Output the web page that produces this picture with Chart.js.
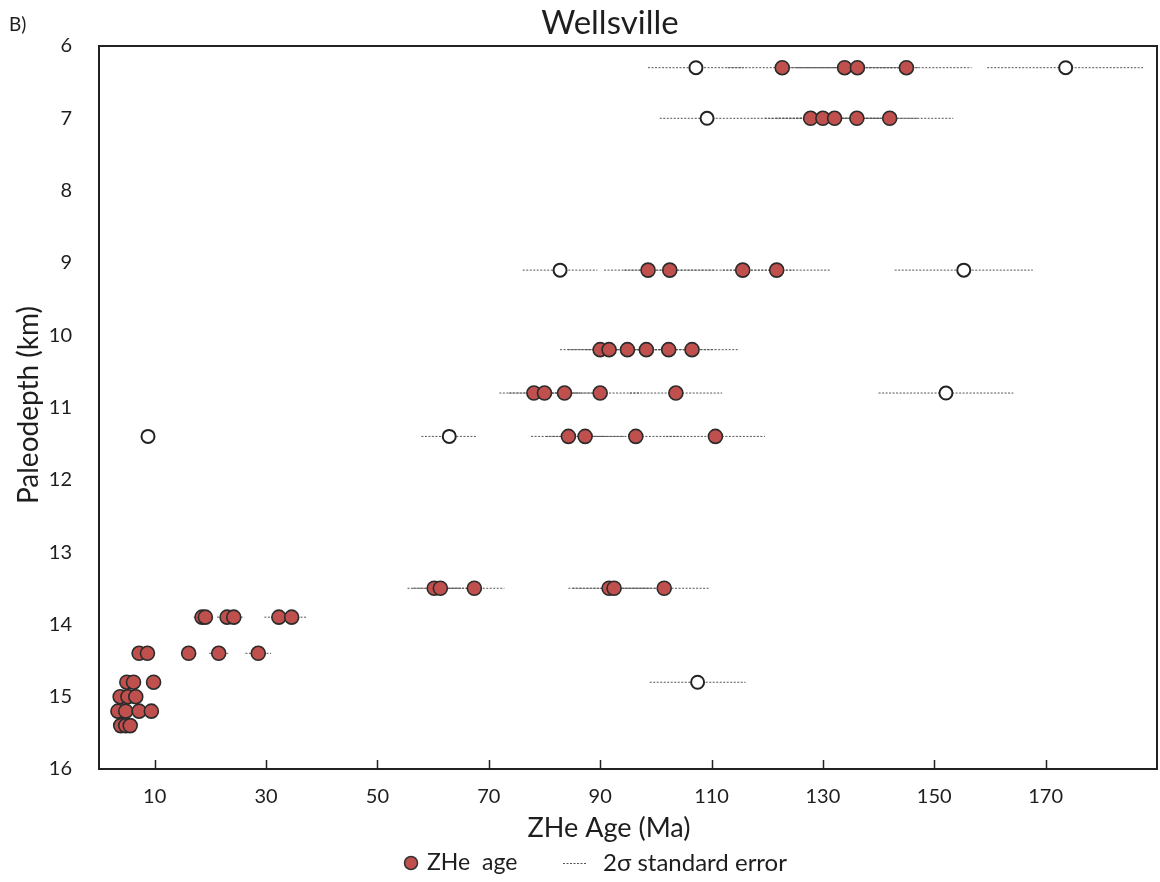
<!DOCTYPE html>
<html>
<head>
<meta charset="utf-8">
<script src="https://cdn.jsdelivr.net/npm/chart.js@4.4.0/dist/chart.umd.min.js"></script>
<style>
html,body{margin:0;padding:0;background:#fff;}
#wrap{width:1160px;height:882px;position:relative;}
</style>
</head>
<body>
<div id="wrap"><canvas id="c" width="1160" height="882"></canvas></div>
<script>
// ---- data ----
const xTickValues = [10, 30, 50, 70, 90, 110, 130, 150, 170];
const yTickValues = [6, 7, 8, 9, 10, 11, 12, 13, 14, 15, 16];

const filledDepth = [
  6.3, 6.3, 6.3, 6.3,
  7.0, 7.0, 7.0, 7.0, 7.0,
  9.1, 9.1, 9.1, 9.1,
  10.2, 10.2, 10.2, 10.2, 10.2, 10.2,
  10.8, 10.8, 10.8, 10.8, 10.8,
  11.4, 11.4, 11.4, 11.4,
  13.5, 13.5, 13.5, 13.5, 13.5, 13.5,
  13.9, 13.9, 13.9, 13.9, 13.9, 13.9,
  14.4, 14.4, 14.4, 14.4, 14.4,
  14.8, 14.8, 14.8,
  15.0, 15.0, 15.0,
  15.2, 15.2, 15.2, 15.2,
  15.4, 15.4, 15.4
];
const filledAge = [
  122.7, 133.9, 136.2, 145.0,
  127.8, 130.0, 132.1, 136.1, 142.0,
  98.6, 102.5, 115.6, 121.7,
  90.0, 91.6, 94.9, 98.3, 102.3, 106.5,
  78.1, 80.0, 83.6, 90.0, 103.6,
  84.3, 87.3, 96.4, 110.7,
  60.2, 61.3, 67.4, 91.6, 92.5, 101.5,
  18.5, 19.1, 23.0, 24.2, 32.3, 34.6,
  7.2, 8.7, 16.1, 21.5, 28.6,
  5.0, 6.2, 9.8,
  3.8, 5.2, 6.6,
  3.4, 4.8, 7.2, 9.4,
  3.9, 4.8, 5.6
];
const filledErr = [
  9.8, 10.7, 10.9, 11.7,
  10.2, 10.4, 10.6, 10.9, 11.4,
  7.9, 8.2, 9.2, 9.7,
  7.2, 7.3, 7.6, 7.9, 8.2, 8.5,
  6.2, 6.4, 6.7, 7.2, 8.3,
  6.7, 7.0, 7.7, 8.9,
  4.8, 4.9, 5.4, 7.3, 7.4, 8.1,
  1.5, 1.5, 1.8, 1.9, 2.6, 2.8,
  0.6, 0.7, 1.3, 1.7, 2.3,
  0.4, 0.5, 0.8,
  0.3, 0.4, 0.5,
  0.3, 0.4, 0.6, 0.8,
  0.3, 0.4, 0.4
];

const openDepth = [6.3, 6.3, 7.0, 9.1, 9.1, 10.8, 11.4, 11.4, 14.8];
const openAge   = [107.2, 173.6, 109.2, 82.8, 155.3, 152.1, 8.8, 62.9, 107.5];
const openErr   = [8.6, 14.1, 8.5, 6.7, 12.4, 12.1, 0.7, 5.0, 8.6];

// ---- build datasets from arrays ----
const filledPts = filledAge.map((a, i) => ({x: a, y: filledDepth[i]}));
const openPts = openAge.map((a, i) => ({x: a, y: openDepth[i]}));
const errPts = [];
function addBars(ages, depths, errs) {
  ages.forEach((a, i) => {
    errPts.push({x: a - errs[i], y: depths[i]});
    errPts.push({x: a + errs[i], y: depths[i]});
    errPts.push({x: a, y: null});
  });
}
addBars(filledAge, filledDepth, filledErr);
addBars(openAge, openDepth, openErr);

const FONT = 'Lato, "Open Sans", sans-serif';
const TXT = '#1e1e1e';
const RED = '#c0504d';

const decor = {
  id: 'decor',
  afterDraw(chart) {
    const {ctx, chartArea: ca, scales} = chart;
    ctx.save();
    // frame
    ctx.strokeStyle = '#222';
    ctx.lineWidth = 2;
    ctx.setLineDash([]);
    ctx.strokeRect(ca.left, ca.top, ca.right - ca.left, ca.bottom - ca.top);
    // inward x ticks
    ctx.lineWidth = 1.5;
    xTickValues.forEach(v => {
      const px = Math.round(scales.x.getPixelForValue(v)) + 0.5;
      ctx.beginPath();
      ctx.moveTo(px, ca.bottom);
      ctx.lineTo(px, ca.bottom - 9);
      ctx.stroke();
    });
    // texts
    ctx.fillStyle = TXT;
    ctx.textBaseline = 'middle';
    ctx.textAlign = 'center';
    ctx.font = '33px ' + FONT;
    ctx.fillText('Wellsville', 610, 23);
    ctx.textAlign = 'left';
    ctx.font = '19px ' + FONT;
    ctx.fillText('B)', 9, 25);
    ctx.textAlign = 'center';
    ctx.font = '27px ' + FONT;
    ctx.fillText('ZHe Age (Ma)', 609, 828);
    ctx.save();
    ctx.font = '28px ' + FONT;
    ctx.translate(29, 405);
    ctx.rotate(-Math.PI / 2);
    ctx.fillText('Paleodepth (km)', 0, 0);
    ctx.restore();
    // legend
    const ly = 863;
    ctx.beginPath();
    ctx.arc(411, ly, 6.5, 0, Math.PI * 2);
    ctx.fillStyle = RED;
    ctx.fill();
    ctx.lineWidth = 1.5;
    ctx.strokeStyle = '#333';
    ctx.stroke();
    ctx.fillStyle = TXT;
    ctx.textAlign = 'left';
    ctx.font = '23px ' + FONT;
    ctx.fillText('ZHe  age', 427, ly);
    ctx.beginPath();
    ctx.setLineDash([2, 1.5]);
    ctx.lineWidth = 1;
    ctx.strokeStyle = '#555';
    ctx.moveTo(563, ly + 0.5);
    ctx.lineTo(586, ly + 0.5);
    ctx.stroke();
    ctx.setLineDash([]);
    ctx.font = '24px ' + FONT;
    ctx.fillText('2σ standard error', 603, ly);
    ctx.restore();
  }
};

new Chart(document.getElementById('c'), {
  type: 'scatter',
  data: {
    datasets: [
      {
        label: 'ZHe  age',
        data: filledPts,
        pointRadius: 7,
        pointHoverRadius: 7,
        backgroundColor: RED,
        borderColor: '#2b2b2b',
        borderWidth: 1.6
      },
      {
        label: 'excluded',
        data: openPts,
        pointRadius: 6.5,
        pointHoverRadius: 6.5,
        backgroundColor: '#ffffff',
        borderColor: '#222',
        borderWidth: 2
      },
      {
        label: '2σ standard error',
        data: errPts,
        showLine: true,
        spanGaps: false,
        pointRadius: 0,
        pointHoverRadius: 0,
        borderColor: '#555',
        borderWidth: 1,
        borderDash: [2, 1.5]
      }
    ]
  },
  options: {
    responsive: false,
    animation: false,
    devicePixelRatio: 1,
    layout: {autoPadding: false, padding: {top: 46, right: 3, left: 0, bottom: 0}},
    plugins: {
      legend: {display: false},
      tooltip: {enabled: false},
      title: {display: false}
    },
    scales: {
      x: {
        type: 'linear',
        min: 0,
        max: 190,
        afterBuildTicks: s => { s.ticks = xTickValues.map(v => ({value: v})); },
        afterFit: s => { s.height = 113; },
        grid: {display: false},
        border: {display: true, color: '#222', width: 2},
        ticks: {
          font: {family: FONT, size: 20},
          color: TXT,
          padding: 8,
          maxRotation: 0,
          autoSkip: false
        }
      },
      y: {
        type: 'linear',
        reverse: true,
        min: 6,
        max: 16,
        afterBuildTicks: s => { s.ticks = yTickValues.map(v => ({value: v})); },
        afterFit: s => { s.width = 99; },
        grid: {display: false},
        border: {display: true, color: '#222', width: 2},
        ticks: {
          font: {family: FONT, size: 20},
          color: TXT,
          padding: 19,
          autoSkip: false
        }
      }
    }
  },
  plugins: [decor]
});
</script>
</body>
</html>
